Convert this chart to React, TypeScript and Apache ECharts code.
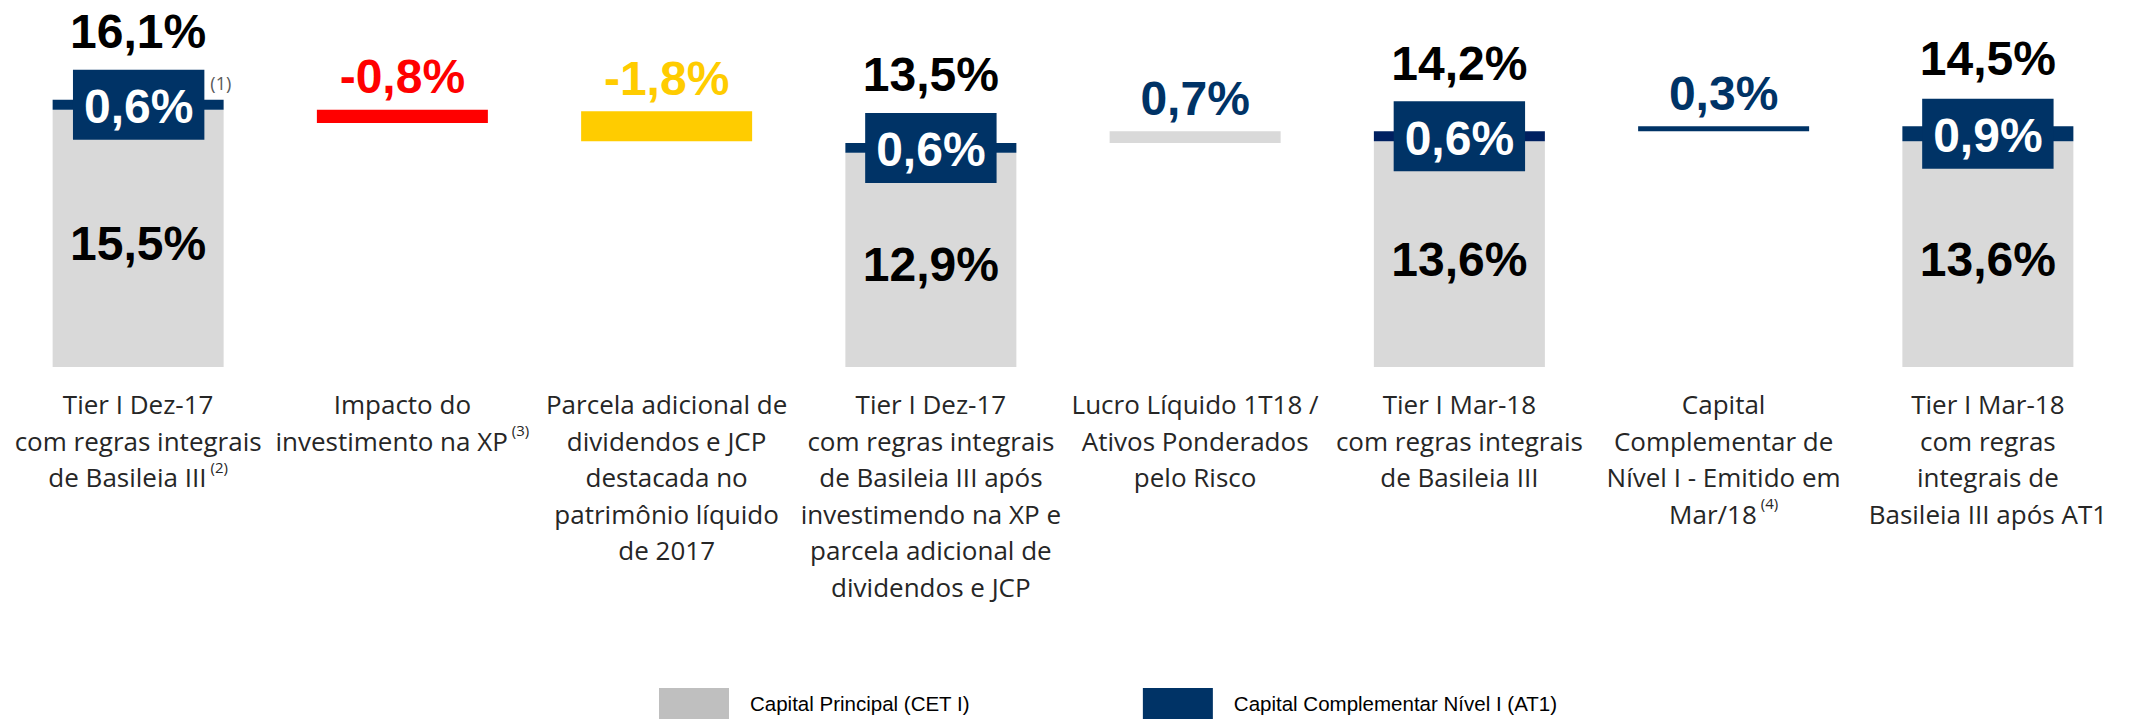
import React, { useEffect, useRef } from "react";
import * as echarts from "echarts";

// ---- Data ----
const categories = [
  "Tier I Dez-17\ncom regras integrais\nde Basileia III",
  "Impacto do\ninvestimento na XP",
  "Parcela adicional de\ndividendos e JCP\ndestacada no\npatrimônio líquido\nde 2017",
  "Tier I Dez-17\ncom regras integrais\nde Basileia III após\ninvestimendo na XP e\nparcela adicional de\ndividendos e JCP",
  "Lucro Líquido 1T18 /\nAtivos Ponderados\npelo Risco",
  "Tier I Mar-18\ncom regras integrais\nde Basileia III",
  "Capital\nComplementar de\nNível I - Emitido em\nMar/18",
  "Tier I Mar-18\ncom regras\nintegrais de\nBasileia III após AT1",
];
const categoryNotes = ["(2)", "(3)", "", "", "", "", "(4)", ""];

const cet1Values = [15.5, null, null, 12.9, null, 13.6, null, 13.6];
const at1Values = [0.6, null, null, 0.6, null, 0.6, null, 0.9];
const tier1Totals = [16.1, null, null, 13.5, null, 14.2, null, 14.5];
const changeBase = [null, 14.7, 13.6, null, 13.5, null, 14.2, null];
const changeValues = [null, -0.8, -1.8, null, 0.7, null, 0.3, null];
const at1Notes = ["(1)", "", "", "", "", "", "", ""];

const legendNames = ["Capital Principal (CET I)", "Capital Complementar Nível I (AT1)"];

// ---- Styles ----
const GRAY = "#D9D9D9";
const LEGEND_GRAY = "#BFBFBF";
const NAVY = "#003366";
const NAVY_DARK = "#002060";
const RED = "#FF0000";
const YELLOW = "#FFCC00";
const changeBarColors: Record<number, string> = { 1: RED, 2: YELLOW, 4: GRAY, 6: NAVY };
const changeLabelColors: Record<number, string> = { 1: RED, 2: YELLOW, 4: NAVY, 6: NAVY };
const FONT = "'Open Sans', 'Noto Sans', sans-serif";
const VALUE_FONT = "'Liberation Sans', Arial, sans-serif";

const fmt = (v: number) => v.toFixed(1).replace(".", ",") + "%";

export default function App() {
  const ref = useRef<HTMLDivElement>(null);

  useEffect(() => {
    if (!ref.current) return;
    const chart = echarts.init(ref.current, undefined, { renderer: "svg" });

    const valueLabel = {
      fontFamily: VALUE_FONT,
      fontSize: 48,
      fontWeight: "bold",
    };

    const option: any = {
      animation: false,
      backgroundColor: "#ffffff",
      grid: { left: 6, right: 10, top: 35, bottom: 352, containLabel: false },
      legend: {
        show: true,
        selectedMode: false,
        left: 659,
        top: 688,
        padding: 0,
        icon: "rect",
        itemWidth: 70,
        itemHeight: 31,
        itemGap: 173,
        textStyle: {
          fontFamily: VALUE_FONT,
          fontSize: 20.5,
          color: "#000",
          padding: [0, 0, 0, 16],
        },
        data: [
          { name: legendNames[0], itemStyle: { color: LEGEND_GRAY } },
          { name: legendNames[1], itemStyle: { color: NAVY } },
        ],
      },
      xAxis: {
        type: "category",
        data: categories,
        axisLine: { show: false },
        axisTick: { show: false },
        axisLabel: {
          interval: 0,
          margin: 19,
          fontFamily: FONT,
          fontSize: 26,
          lineHeight: 36.5,
          color: "#262626",
          formatter: (v: string, i: number) =>
            categoryNotes[i] ? `${v}{sup|${categoryNotes[i]}}` : v,
          rich: {
            sup: {
              fontFamily: FONT,
              fontSize: 15,
              color: "#262626",
              verticalAlign: "top",
              padding: [0, 0, 0, 4],
            },
          },
        },
      },
      yAxis: { type: "value", min: 0, max: 20, show: false },
      series: [
        {
          name: "base",
          type: "bar",
          stack: "tier1",
          barWidth: 171,
          silent: true,
          itemStyle: { color: "rgba(0,0,0,0)" },
          label: { show: false },
          data: changeBase.map((v) => (v == null ? "-" : v)),
        },
        {
          name: legendNames[0],
          type: "bar",
          stack: "tier1",
          barWidth: 171,
          itemStyle: { color: GRAY },
          label: {
            show: true,
            position: "inside",
            offset: [0, 5],
            ...valueLabel,
            color: "#000",
            formatter: (p: any) => fmt(p.value),
          },
          data: cet1Values.map((v) => (v == null ? "-" : v)),
        },
        {
          name: "change",
          type: "bar",
          stack: "tier1",
          barWidth: 171,
          label: {
            show: true,
            position: "top",
            distance: 9,
            ...valueLabel,
            formatter: (p: any) => fmt(changeValues[p.dataIndex] as number),
          },
          data: changeValues.map((v, i) =>
            v == null
              ? "-"
              : {
                  value: Math.abs(v),
                  itemStyle: { color: changeBarColors[i] },
                  label: { color: changeLabelColors[i] },
                }
          ),
        },
        {
          name: legendNames[1],
          type: "bar",
          stack: "tier1",
          barWidth: 171,
          itemStyle: { color: NAVY },
          label: {
            show: true,
            position: "inside",
            formatter: (p: any) =>
              at1Notes[p.dataIndex]
                ? `{box|${fmt(p.value)}}{note|${at1Notes[p.dataIndex]}}`
                : `{box|${fmt(p.value)}}`,
            rich: {
              box: {
                ...valueLabel,
                color: "#fff",
                lineHeight: 50,
                backgroundColor: NAVY,
                padding: [13, 11, 9, 11],
              },
              note: {
                fontFamily: FONT,
                fontSize: 18,
                color: "#595959",
                verticalAlign: "middle",
                padding: [0, 0, 44, 6],
              },
            },
          },
          data: at1Values.map((v, i) =>
            v == null
              ? "-"
              : {
                  value: v,
                  itemStyle: i === 5 ? { color: NAVY_DARK } : undefined,
                  label: at1Notes[i] ? { offset: [14, 0] } : undefined,
                }
          ),
        },
        {
          name: "total",
          type: "scatter",
          symbolSize: 0,
          silent: true,
          itemStyle: { opacity: 1 },
          label: {
            show: true,
            position: "top",
            distance: 44,
            ...valueLabel,
            color: "#000",
            formatter: (p: any) => fmt(Array.isArray(p.value) ? p.value[1] : p.value),
          },
          data: tier1Totals.map((v) => (v == null ? "-" : v)),
        },
      ],
    };

    chart.setOption(option);
    return () => chart.dispose();
  }, []);

  return (
    <div
      ref={ref}
      style={{ position: "absolute", left: 0, top: 0, width: 2130, height: 719, background: "#fff" }}
    />
  );
}
